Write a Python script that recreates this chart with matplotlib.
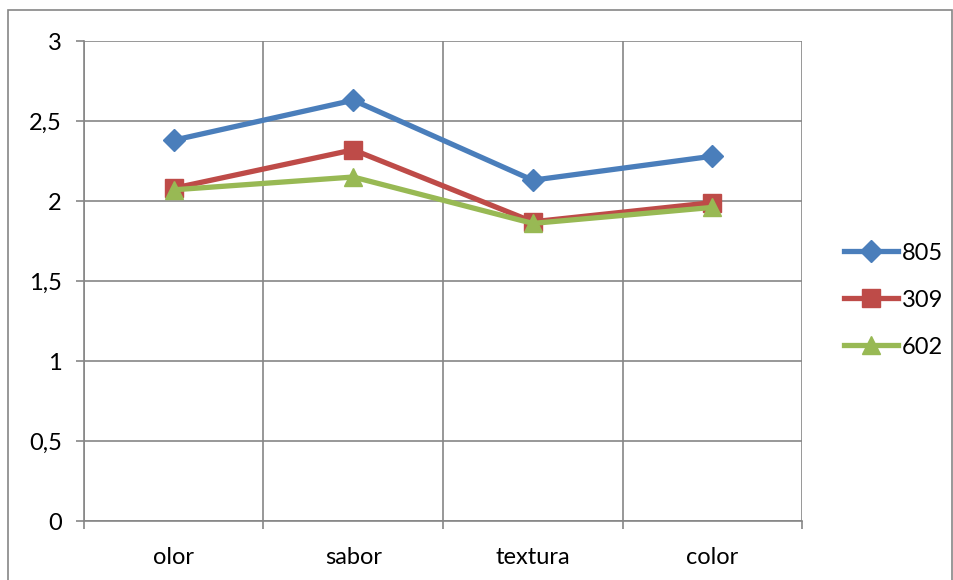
import matplotlib
matplotlib.use('Agg')
import matplotlib.pyplot as plt
import numpy as np
from matplotlib.patches import Rectangle

categories = ['olor', 'sabor', 'textura', 'color']
s805 = [2.38, 2.63, 2.13, 2.28]
s309 = [2.08, 2.32, 1.87, 1.99]
s602 = [2.07, 2.15, 1.86, 1.96]
yticks = [0, 0.5, 1, 1.5, 2, 2.5, 3]
ytick_labels = ['0', '0,5', '1', '1,5', '2', '2,5', '3']

plt.rcParams['font.family'] = ['Lato', 'DejaVu Sans']

fig = plt.figure(figsize=(9.54, 5.8), dpi=100)
ax = fig.add_axes([0.088, 0.1017, 0.7527, 0.8276])

# outer chart frame
fig.patches.append(Rectangle((8 / 954, -0.05), 944 / 954, 1.05 - 10 / 580,
                             transform=fig.transFigure, fill=False,
                             edgecolor='#868686', lw=1.2))

x = np.arange(len(categories)) + 0.5
ax.plot(x, s805, color='#4A7EBB', lw=3.8, marker='D', ms=11, label='805', zorder=5)
ax.plot(x, s309, color='#BE4B48', lw=3.8, marker='s', ms=13, label='309', zorder=4)
ax.plot(x, s602, color='#98B954', lw=3.8, marker='^', ms=13, label='602', zorder=6)

ax.set_xlim(0, len(categories))
ax.set_ylim(0, 3)
ax.set_yticks(yticks)
ax.set_yticklabels(ytick_labels)
ax.set_xticks(x)
ax.set_xticklabels(categories)
ax.set_xticks(np.arange(len(categories) + 1), minor=True)

grid_c = '#868686'
ax.grid(axis='y', which='major', color=grid_c, lw=1.2)
ax.grid(axis='x', which='minor', color=grid_c, lw=1.2)
ax.set_axisbelow(True)

for side in ['top', 'right']:
    ax.spines[side].set_visible(False)
for side in ['left', 'bottom']:
    ax.spines[side].set_color(grid_c)
    ax.spines[side].set_linewidth(1.2)

ax.tick_params(axis='y', which='major', direction='out', length=6, width=1.2,
               color=grid_c, pad=10, labelsize=17)
ax.tick_params(axis='x', which='major', length=0, pad=19, labelsize=17)
ax.tick_params(axis='x', which='minor', direction='out', length=6, width=1.2,
               color=grid_c)

ax.legend(loc='center left', bbox_to_anchor=(1.058, 0.46), frameon=False,
          fontsize=17, handlelength=2.3, labelspacing=1.1, handletextpad=0.15,
          borderaxespad=0, borderpad=0)

fig.savefig('out.png', dpi=100)
